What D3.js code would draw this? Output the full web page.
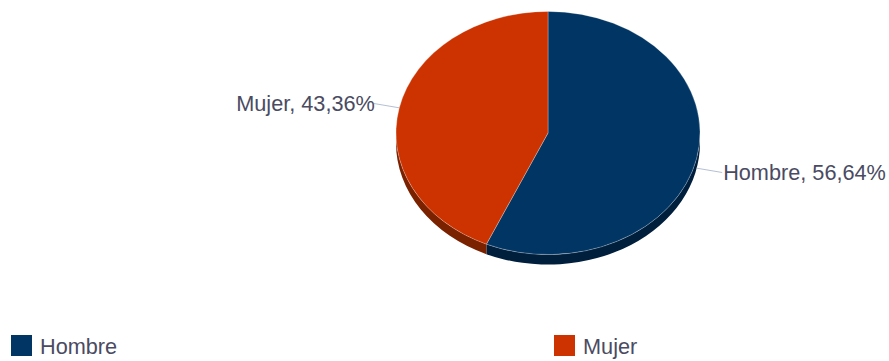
<!DOCTYPE html>
<html>
<head>
<meta charset="utf-8">
<script src="https://cdn.jsdelivr.net/npm/d3@7"></script>
<style>
  html, body { margin: 0; padding: 0; background: #ffffff; }
  svg { display: block; font-family: "Liberation Sans", Arial, sans-serif; }
</style>
</head>
<body>
<svg id="chart" width="889" height="361"></svg>
<script>
// Gender split (percent)
const categories = ["Hombre", "Mujer"];
const values = [56.64, 43.36];
const labels = ["Hombre, 56,64%", "Mujer, 43,36%"];
const colors = ["#013564", "#cc3300"];
const sideColors = ["#001f3d", "#7a2100"];

const W = 889, H = 361;
const cx = 548, cy = 133;          // pie centre
const rx = 152;                    // horizontal radius
const tilt = 0.8;                  // vertical squash of the 3D pie
const depth = 10;                  // thickness of the pie in pixels
const textColor = "#4a4b62";
const fontSize = 21.7;

const svg = d3.select("#chart");

const pie = d3.pie().sort(null).value(d => d)(values);

// Slices are drawn in un-squashed coordinates, then scaled vertically
const g = svg.append("g").attr("transform", `translate(${cx},${cy}) scale(1,${tilt})`);
const depthScaled = depth / tilt;

// Side walls: only the lower half (angles between PI/2 and 3PI/2) faces the viewer
const sides = g.append("g");
pie.forEach((s, i) => {
  const a0 = Math.max(s.startAngle, Math.PI / 2);
  const a1 = Math.min(s.endAngle, Math.PI * 3 / 2);
  if (a1 <= a0) return;
  const p = d3.path();
  p.moveTo(rx * Math.sin(a0), -rx * Math.cos(a0));
  p.arc(0, 0, rx, a0 - Math.PI / 2, a1 - Math.PI / 2, false);
  p.lineTo(rx * Math.sin(a1), -rx * Math.cos(a1) + depthScaled);
  p.arc(0, depthScaled, rx, a1 - Math.PI / 2, a0 - Math.PI / 2, true);
  p.closePath();
  sides.append("path")
    .attr("d", p.toString())
    .attr("fill", sideColors[i]);
});

// Top faces
const arc = d3.arc().innerRadius(0).outerRadius(rx);
g.append("g").selectAll("path")
  .data(pie)
  .join("path")
  .attr("d", arc)
  .attr("fill", (d, i) => colors[i])
  .attr("stroke", "rgba(255,255,255,0.35)")
  .attr("stroke-width", 0.8)
  .attr("vector-effect", "non-scaling-stroke");

// Data labels with connector lines
const labelR = rx + 26;
const lab = svg.append("g");
pie.forEach((s, i) => {
  const mid = (s.startAngle + s.endAngle) / 2;
  const sx = Math.sin(mid), cyy = -Math.cos(mid);
  const drop = cyy > 0 ? depth : 0;
  const ax = cx + rx * sx, ay = cy + rx * tilt * cyy + drop;
  const lx = cx + labelR * sx, ly = cy + labelR * tilt * cyy + drop;
  const right = sx >= 0;
  lab.append("line")
    .attr("x1", ax).attr("y1", ay)
    .attr("x2", lx).attr("y2", ly)
    .attr("stroke", "#b4c0d4")
    .attr("stroke-width", 1);
  lab.append("text")
    .attr("x", lx + 1)
    .attr("y", ly + 7.5)
    .attr("text-anchor", right ? "start" : "end")
    .attr("font-size", fontSize)
    .attr("fill", textColor)
    .text(labels[i]);
});

// Legend
const legendX = d3.scaleBand().domain(categories).range([11, 11 + 543 * categories.length]);
const legend = svg.append("g").selectAll("g")
  .data(categories)
  .join("g")
  .attr("transform", d => `translate(${legendX(d)},335)`);
legend.append("rect")
  .attr("width", 21).attr("height", 21)
  .attr("fill", (d, i) => colors[i]);
legend.append("text")
  .attr("x", 29).attr("y", 19)
  .attr("font-size", fontSize)
  .attr("fill", textColor)
  .text(d => d);
</script>
</body>
</html>
